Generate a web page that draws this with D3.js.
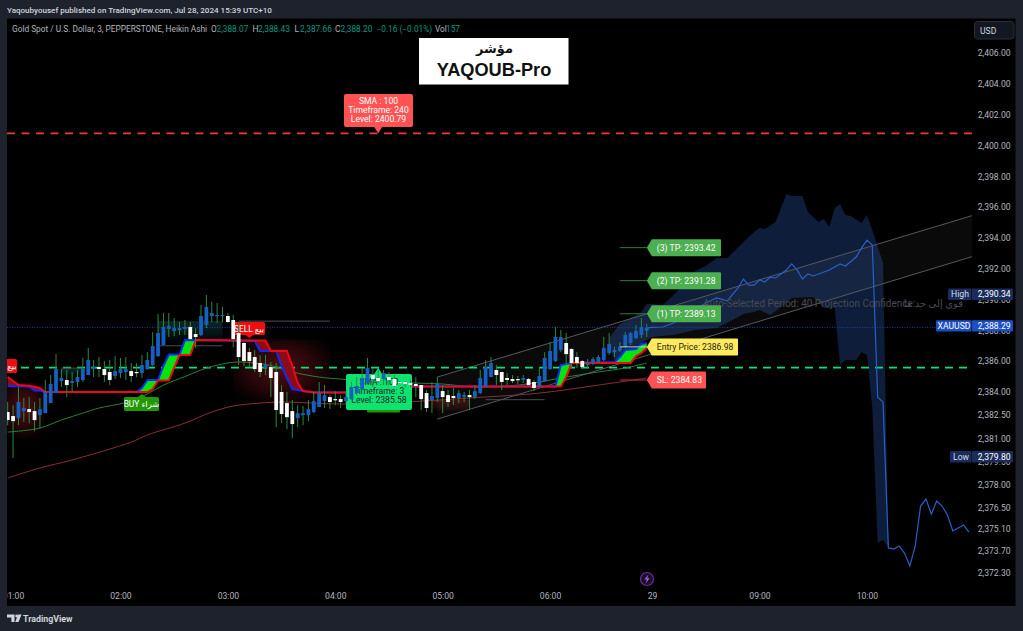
<!DOCTYPE html>
<html><head><meta charset="utf-8">
<script src="https://cdn.jsdelivr.net/npm/d3@7/dist/d3.min.js"></script>
<style>
html,body{margin:0;padding:0;background:#1e222d;overflow:hidden}
svg{display:block}
text{font-family:Roboto,"DejaVu Sans",sans-serif}
</style></head><body>
<svg id="c" width="1023" height="631"></svg>
<script>
// ---------- data ----------
const opens=[2382.70,2382.44,2382.31,2382.76,2382.89,2382.76,2382.50,2382.63,2383.28,2383.93,
2384.71,2384.78,2384.58,2384.65,2384.78,2385.10,2385.49,2385.62,2385.49,2385.30,
2385.04,2385.23,2385.30,2385.36,2385.30,2385.23,2385.49,2385.75,2386.33,2387.05,
2388.09,2387.96,2388.02,2388.09,2388.22,2387.76,2387.70,2388.35,2388.93,2388.93,
2388.93,2388.93,2388.67,2387.83,2387.18,2386.59,2386.27,2385.88,2385.56,2385.62,
2385.30,2384.00,2383.28,2382.76,2382.31,2382.50,2382.50,2382.70,2383.02,2383.41,
2383.67,2383.54,2383.54,2383.41,2383.54,2383.93,2384.19,2384.58,2385.10,2384.91,
2384.84,2384.97,2384.84,2384.65,2384.65,2384.58,2384.52,2384.45,2383.93,2383.48,
2383.61,2384.06,2383.80,2383.74,2383.61,2383.67,2383.80,2383.67,2383.93,2384.39,
2384.97,2385.43,2385.30,2384.91,2384.84,2384.84,2384.78,2384.84,2384.65,2384.39,
2384.71,2385.49,2386.01,2386.72,2387.18,2386.79,2386.27,2386.01,2385.75,2385.88,
2385.95,2386.08,2386.53,2386.59,2386.66,2386.92,2387.18,2387.50,2387.70,2387.96];
const closes=[2382.18,2382.11,2383.35,2382.96,2382.70,2382.18,2382.89,2384.00,2384.52,2385.49,
2384.91,2384.45,2384.71,2384.97,2385.49,2386.08,2385.62,2385.49,2385.10,2384.78,
2385.36,2385.49,2385.49,2385.04,2385.23,2385.75,2386.08,2386.98,2387.83,2388.22,
2388.28,2388.15,2388.15,2388.22,2387.44,2387.57,2388.93,2389.52,2389.13,2389.00,
2389.00,2388.54,2387.44,2386.27,2386.01,2386.01,2385.49,2385.30,2385.75,2384.91,
2382.83,2382.57,2382.37,2381.92,2382.63,2382.63,2382.89,2383.41,2383.93,2383.80,
2383.35,2383.48,2383.35,2383.67,2384.32,2384.39,2384.91,2385.56,2384.84,2384.71,
2385.23,2384.78,2384.39,2384.58,2384.52,2384.45,2384.39,2383.54,2382.96,2383.74,
2384.52,2383.67,2383.35,2383.61,2383.93,2383.80,2383.67,2384.06,2384.91,2385.62,
2385.88,2385.10,2384.65,2384.78,2384.71,2384.78,2384.91,2384.45,2384.26,2385.04,
2386.21,2386.66,2387.57,2387.57,2386.46,2385.88,2385.88,2385.62,2385.88,2386.14,
2386.27,2386.85,2387.11,2386.72,2386.92,2387.70,2387.83,2387.96,2388.22,2388.15];
const highs=[2383.35,2383.15,2384.32,2383.61,2383.67,2383.35,2383.61,2384.78,2385.10,2386.46,
2385.49,2385.43,2385.30,2385.43,2386.21,2386.85,2386.08,2386.27,2386.01,2386.08,
2386.33,2386.21,2386.27,2385.88,2385.88,2386.40,2386.59,2387.89,2389.06,2389.13,
2389.13,2388.80,2388.54,2388.67,2388.54,2388.15,2389.65,2390.29,2389.84,2389.78,
2389.52,2389.13,2389.00,2388.48,2387.24,2386.85,2386.72,2386.40,2386.40,2385.95,
2385.88,2384.45,2384.00,2383.48,2383.15,2383.09,2383.48,2384.00,2384.65,2384.45,
2383.80,2384.06,2383.80,2384.06,2384.65,2384.97,2385.56,2386.21,2385.56,2385.43,
2385.43,2385.30,2385.10,2384.71,2384.71,2384.78,2384.97,2384.45,2384.13,2384.65,
2384.97,2384.45,2384.13,2384.26,2384.13,2384.00,2384.13,2384.45,2385.43,2386.08,
2386.27,2385.75,2385.30,2385.23,2385.10,2385.04,2385.10,2384.91,2384.78,2385.62,
2386.59,2387.24,2388.22,2388.02,2387.83,2386.85,2386.59,2386.08,2386.14,2386.27,
2386.40,2387.57,2387.83,2386.92,2387.24,2387.89,2387.89,2388.35,2388.80,2388.41];
const lows=[2381.85,2379.72,2381.85,2382.05,2381.98,2381.46,2381.66,2382.63,2383.28,2383.93,
2384.32,2383.67,2384.00,2384.32,2384.65,2385.10,2384.97,2384.97,2384.65,2384.45,
2384.84,2384.91,2384.78,2384.65,2384.97,2384.91,2385.43,2385.69,2386.27,2387.05,
2387.57,2387.63,2387.70,2387.70,2387.37,2386.85,2387.63,2388.15,2388.54,2388.48,
2388.54,2388.48,2386.92,2385.75,2385.69,2385.62,2385.30,2384.97,2385.10,2383.67,
2381.72,2381.98,2381.59,2381.01,2381.72,2381.85,2382.11,2382.63,2383.02,2382.96,
2382.89,2383.15,2382.96,2383.28,2383.48,2383.80,2384.13,2384.58,2384.32,2384.58,
2384.45,2384.45,2384.32,2384.52,2384.32,2384.32,2383.67,2382.83,2382.70,2382.63,
2383.35,2382.63,2383.02,2383.15,2383.28,2383.35,2382.83,2383.54,2383.87,2384.32,
2384.97,2384.45,2384.13,2384.45,2384.58,2384.52,2384.58,2384.45,2384.06,2384.32,
2384.65,2385.43,2385.95,2386.59,2385.75,2385.56,2385.56,2385.56,2385.56,2385.75,
2385.88,2386.01,2386.40,2386.27,2386.59,2386.85,2387.05,2387.44,2387.50,2387.57];

const trailRedBars=[0,2,4,6,7,26,27,28,30,32,34,35,48,49,52,53,54,55,57,66,67,103,104,105,116,117,118,119];
const trailRedPrices=[2384.97,2384.45,2384.41,2384.26,2384.00,2384.00,2384.19,2384.75,2384.75,2386.40,2386.40,2387.37,2387.34,2386.66,2386.66,2385.69,2384.58,2384.06,2383.97,2383.97,2384.35,2384.35,2384.97,2385.88,2385.88,2386.33,2386.53,2386.85];
const trailBlueBars=[0,4,5,6,7,24,25,26,28,29,30,32,33,46,47,50,51,52,53,55,57,66,67,102,103,105,113,114,115,117,118,119];
const trailBluePrices=[2384.39,2384.35,2384.10,2384.10,2384.00,2384.00,2384.26,2384.78,2384.78,2385.69,2386.43,2386.43,2387.37,2387.31,2386.66,2386.66,2385.69,2384.91,2384.19,2384.06,2383.97,2383.97,2384.35,2384.35,2385.75,2385.88,2385.95,2386.27,2386.72,2386.79,2387.11,2387.18];

const maFastBars=[0,2,6,10,14,17,22,26,29,33,36,40,43,46,49,53,58,62,70,76,81,87,95,99,103,110,115,119];
const maFastPrices=[2381.40,2381.46,2381.66,2382.18,2382.63,2382.96,2383.32,2383.87,2384.45,2385.00,2385.43,2385.82,2385.95,2385.88,2385.72,2385.30,2384.97,2384.84,2384.65,2384.58,2384.52,2384.32,2384.45,2384.65,2384.91,2385.30,2385.56,2385.88];
const maSlowBars=[0,6,12,23,26,33,38,42,47,51,62,70,77,86,99,110,119];
const maSlowPrices=[2378.42,2379.07,2379.59,2380.75,2381.21,2381.98,2382.70,2383.09,2383.28,2383.35,2383.22,2383.28,2383.41,2383.61,2383.93,2384.45,2384.91];

const projectionBars=[119,120,122,124,126,128,130,132,134,136,137,138,139,140,141,142,143,144,145,146,147,148,149,150,152,153,155,156,158,159,160,161,162,163,164,165,166,167,168,169,170,171,172,173,174,175,176,177,178,179];
const projectionPrices=[2388.15,2388.19,2388.22,2388.48,2388.93,2389.32,2389.78,2390.10,2389.91,2390.75,2391.33,2390.94,2390.94,2391.27,2391.14,2391.46,2391.40,2391.66,2391.92,2392.31,2391.92,2391.33,2391.66,2391.53,2391.79,2391.92,2392.31,2392.18,2392.76,2393.34,2393.86,2393.54,2383.67,2383.35,2373.88,2373.81,2374.01,2373.55,2372.71,2374.01,2376.60,2377.05,2376.08,2376.93,2376.60,2376.02,2374.98,2375.17,2375.37,2374.91];
const bandUpperBars=[112,114,116,118,119,120,122,124,126,128,130,132,134,137,139,140,141,143,144,145,146,148,149,151,152,153,154,155,156,157,159,160,161,163,164];
const bandUpperPrices=[2387.50,2388.41,2388.80,2389.19,2389.71,2389.71,2389.65,2390.29,2391.07,2391.85,2392.18,2392.70,2392.70,2393.73,2394.38,2394.64,2394.58,2395.03,2395.94,2396.85,2396.72,2396.72,2395.68,2395.03,2395.23,2394.71,2395.94,2396.20,2395.49,2395.42,2394.97,2395.49,2394.51,2392.37,2373.94];
const bandLowerBars=[112,113,115,118,120,124,128,132,135,137,139,140,142,144,146,150,152,154,155,156,158,159,160,161,162,163,164];
const bandLowerPrices=[2387.05,2386.08,2386.21,2387.18,2387.57,2387.70,2388.02,2388.15,2388.67,2389.06,2389.19,2389.32,2389.00,2389.52,2390.10,2390.16,2389.45,2389.45,2385.75,2386.08,2386.08,2386.59,2386.40,2383.02,2374.20,2374.39,2373.94];

const channelBars=[80,180];
const channelUpper=[2384.97,2395.49];
const channelLower=[2382.24,2392.83];

const smaHigh=2400.79, smaLow=2385.58, lastPrice=2388.29, sessionHigh=2390.34, sessionLow=2379.80;
const tp3=2393.42,tp2=2391.28,tp1=2389.13,entryPrice=2386.98,stopLoss=2384.83;

const priceTicks=[2406,2404,2402,2400,2398,2396,2394,2392,2390,2388,2386,2384,2382.5,2381,2379.5,2378,2376.5,2375.1,2373.7,2372.3];
const timeTickBars=[1,21,41,61,81,101,120,140,160];
const timeTickLabels=["01:00","02:00","03:00","04:00","05:00","06:00","29","09:00","10:00"];
const legendValues=["2,388.07","2,388.43","2,387.66","2,388.20"];

// ---------- scales ----------
const svg=d3.select("#c");
const panelL=7,panelR=1015.5,panelT=18.5,panelB=606,plotR=972;
const x=d3.scaleLinear().domain([0,179]).range([7.7,7.7+179*5.37]);
const y=d3.scaleLinear().domain([2406,2372.3]).range([53,572.3]);
const fmt=d3.format(",.2f");

const defs=svg.append("defs");
defs.append("clipPath").attr("id","plot").append("rect").attr("x",panelL).attr("y",panelT).attr("width",plotR-panelL).attr("height",panelB-panelT);
function radGrad(id,stops){
  const g=defs.append("radialGradient").attr("id",id).attr("cx",.5).attr("cy",.45).attr("r",.62);
  stops.forEach(s=>g.append("stop").attr("offset",s[0]).attr("stop-color",s[1]).attr("stop-opacity",s[2]));
}
function vGrad(id,stops){
  const g=defs.append("linearGradient").attr("id",id).attr("x1",0).attr("x2",0).attr("y1",0).attr("y2",1);
  stops.forEach(s=>g.append("stop").attr("offset",s[0]).attr("stop-color",s[1]).attr("stop-opacity",s[2]));
}
radGrad("glowRed",[[0,"#c4202e",.42],[.55,"#a81a28",.24],[1,"#7a1420",.02]]);
vGrad("glowTeal",[[0,"#1f7f7f",.32],[1,"#1f7f7f",0]]);
vGrad("glowDark",[[0,"#7a1e22",.5],[1,"#7a1e22",.12]]);

svg.append("rect").attr("width",1023).attr("height",631).attr("fill","#1e222d");
svg.append("rect").attr("x",panelL).attr("y",panelT).attr("width",panelR-panelL).attr("height",panelB-panelT).attr("fill","#000");

const plot=svg.append("g").attr("clip-path","url(#plot)");
const pts=(bars,prices)=>bars.map((b,i)=>[x(b),y(prices[i])]);
const line=d3.line();
const between=(bars1,p1,bars2,p2,a,b)=>{
  const f=(bs,ps)=>pts(bs,ps).filter((_,i)=>bs[i]>=a&&bs[i]<=b);
  return "M"+f(bars1,p1).concat(f(bars2,p2).reverse()).map(d=>d.join(",")).join("L")+"Z";
};

// forecast band
plot.append("path").attr("d",between(bandUpperBars,bandUpperPrices,bandLowerBars,bandLowerPrices,0,999)).attr("fill","#0d1d3a");
// channel
plot.append("path").attr("d",between(channelBars,channelUpper,channelBars,channelLower,0,999)).attr("fill","#fff").attr("opacity",.04);
[channelUpper,channelLower].forEach(c=>plot.append("path").attr("d",line(pts(channelBars,c))).attr("fill","none").attr("stroke","#55585e").attr("stroke-width",1));

// shaded glows  [bar from, bar to, price top, price bottom, gradient]
[[-1,7,2384.6,2381.0,"glowRed"],[42,60,2387.4,2383.2,"glowRed"],[79,86,2383.5,2382.8,"glowDark"],
 [28,40,2388.6,2387.1,"glowTeal"],[10,14,2385.5,2384.9,"glowTeal"]].forEach(s=>
  plot.append("rect").attr("x",x(s[0])).attr("width",x(s[1])-x(s[0])).attr("y",y(s[2])).attr("height",y(s[3])-y(s[2])).attr("fill",`url(#${s[4]})`));

// level lines
plot.append("line").attr("x1",panelL).attr("x2",plotR).attr("y1",y(lastPrice)+1.5).attr("y2",y(lastPrice)+1.5).attr("stroke","#1e3fa8").attr("stroke-dasharray","1 1.5").attr("stroke-width",1);
plot.append("line").attr("x1",panelL).attr("x2",plotR).attr("y1",y(smaHigh)).attr("y2",y(smaHigh)).attr("stroke","#f23645").attr("stroke-dasharray","8 6.5").attr("stroke-width",1.8);
plot.append("line").attr("x1",panelL).attr("x2",plotR).attr("y1",y(smaLow)).attr("y2",y(smaLow)).attr("stroke","#00e676").attr("stroke-dasharray","8 6").attr("stroke-width",1.8);

// short grey levels [bar from, bar to, price]
[[10,14,2385.55],[28,40,2387.0],[43,60,2388.6],[89,100,2383.5]].forEach(s=>
  plot.append("line").attr("x1",x(s[0])).attr("x2",x(s[1])).attr("y1",y(s[2])).attr("y2",y(s[2])).attr("stroke","#4a4d52").attr("stroke-width",1));

// moving averages
plot.append("path").attr("d",line.curve(d3.curveCatmullRom)(pts(maSlowBars,maSlowPrices))).attr("fill","none").attr("stroke","#8c2f2f").attr("stroke-width",1);
plot.append("path").attr("d",line(pts(maFastBars,maFastPrices))).attr("fill","none").attr("stroke","#2f7d3a").attr("stroke-width",1);
line.curve(d3.curveLinear);

// trailing ribbon
[[24,35,"#00e60a"],[102,119,"#00e60a"],[46,57,"#8a0b1a"],[0,7,"#8a0b1a"]].forEach(s=>
  plot.append("path").attr("d",between(trailBlueBars,trailBluePrices,trailRedBars,trailRedPrices,s[0],s[1])).attr("fill",s[2]));
plot.append("path").attr("d",line(pts(trailBlueBars,trailBluePrices))).attr("fill","none").attr("stroke","#0a2cff").attr("stroke-width",2).attr("stroke-linejoin","round");
plot.append("path").attr("d",line(pts(trailRedBars,trailRedPrices))).attr("fill","none").attr("stroke","#f5060f").attr("stroke-width",2).attr("stroke-linejoin","round");

// callouts behind the candles
function tipBox(g,x0,x1,y0,y1,tx,ty,fill,r=1.5){
  const up=ty<y0;
  const d=up?`M${x0+r},${y0}L${tx-4},${y0}L${tx},${ty}L${tx+4},${y0}L${x1-r},${y0}Q${x1},${y0} ${x1},${y0+r}L${x1},${y1-r}Q${x1},${y1} ${x1-r},${y1}L${x0+r},${y1}Q${x0},${y1} ${x0},${y1-r}L${x0},${y0+r}Q${x0},${y0} ${x0+r},${y0}Z`
            :`M${x0+r},${y0}L${x1-r},${y0}Q${x1},${y0} ${x1},${y0+r}L${x1},${y1-r}Q${x1},${y1} ${x1-r},${y1}L${tx+4},${y1}L${tx},${ty}L${tx-4},${y1}L${x0+r},${y1}Q${x0},${y1} ${x0},${y1-r}L${x0},${y0+r}Q${x0},${y0} ${x0+r},${y0}Z`;
  g.append("path").attr("d",d).attr("fill",fill);
}
function boxText(g,tx,ty,str,fill,size=8.4,anchor="middle",weight=400){
  return g.append("text").attr("x",tx).attr("y",ty).attr("text-anchor",anchor).attr("fill",fill).attr("font-size",size).attr("font-weight",weight).text(str);
}
const sellLabel="SELL بيع", buyLabel="BUY شراء";
const labs=plot.append("g");
// clipped sell at the left edge
tipBox(labs,-18,17,359,373,-1,375,"#f00d0d"); boxText(labs,12,369,"بيع","#fff",8.4);
// sell
tipBox(labs,233,265,322,335,x(45),338,"#f00d0d"); boxText(labs,249,331.5,sellLabel,"#fff",8.4);
// buy
tipBox(labs,124,159,397,411,x(25),394,"#1f9a06"); boxText(labs,141.5,407,buyLabel,"#fff",8.4);
// hidden buy underneath the SMA callout
labs.append("rect").attr("x",367).attr("y",400).attr("width",33).attr("height",12.5).attr("rx",1).attr("fill","#1f9a06");
// SMA low callout
tipBox(labs,346,412,374,410,x(69),y(smaLow),"#0fe36f",2);
["SMA : 100","Timeframe: 3","Level: "+smaLow.toFixed(2)].forEach((t,i)=>boxText(labs,379,384.5+i*9.2,t,"#123",8.6));
// SMA high callout
tipBox(labs,344,413,94,127,x(69),y(smaHigh),"#ff5252",2);
["SMA : 100","Timeframe: 240","Level: "+smaHigh.toFixed(2)].forEach((t,i)=>boxText(labs,378.5,103.5+i*9.4,t,"#fff",8.6));

// candles
const candleG=plot.append("g");
const cd=opens.map((o,i)=>({i,o,c:closes[i],h:highs[i],l:lows[i]}));
candleG.selectAll("line").data(cd).join("line")
 .attr("x1",d=>x(d.i)).attr("x2",d=>x(d.i)).attr("y1",d=>y(d.h)).attr("y2",d=>y(d.l))
 .attr("stroke","#2c8a3c").attr("stroke-width",1);
candleG.selectAll("rect").data(cd).join("rect")
 .attr("x",d=>x(d.i)-1.9).attr("width",3.8)
 .attr("y",d=>y(Math.max(d.o,d.c))).attr("height",d=>Math.max(1.2,y(Math.min(d.o,d.c))-y(Math.max(d.o,d.c))))
 .attr("fill",d=>d.c>=d.o?"#1660bf":"#fff");

// projection
plot.append("path").attr("d",line(pts(projectionBars,projectionPrices))).attr("fill","none").attr("stroke","#2a5fc9").attr("stroke-width",1.2);

// status text (under the trade labels)
boxText(plot,703,306.5,"Auto-Selected Period: 40   Projection Confidence:","#474a52",10,"start");
boxText(plot,963,306.5,"قوي إلى حد ما","#474a52",10,"end");

// trade labels
const labelBar=119.2;
[[tp3,"(3) TP: "+tp3,"#4caf50","#fff",721,"#2b7f31"],
 [tp2,"(2) TP: "+tp2,"#4caf50","#fff",721,"#2b7f31"],
 [tp1,"(1) TP: "+tp1,"#4caf50","#fff",721,"#2b7f31"],
 [entryPrice,"Entry Price: "+entryPrice,"#ffeb5b","#1d1d1d",738,"#c8c8b0"],
 [stopLoss,"SL: "+stopLoss,"#ff5252","#fff",706,"#d02a35"]].forEach(t=>{
  const ly=y(t[0])+.8, lx=x(labelBar)-1;
  plot.append("line").attr("x1",x(114)).attr("x2",lx).attr("y1",ly).attr("y2",ly).attr("stroke",t[5]).attr("stroke-width",1);
  const d=`M${lx},${ly}L${lx+5},${ly-8.5}L${t[4]-1},${ly-8.5}Q${t[4]},${ly-8.5} ${t[4]},${ly-7.5}L${t[4]},${ly+7.5}Q${t[4]},${ly+8.5} ${t[4]-1},${ly+8.5}L${lx+5},${ly+8.5}Z`;
  plot.append("path").attr("d",d).attr("fill",t[2]);
  boxText(plot,lx+10,ly+3,t[1],t[3],8.6,"start");
});

// axes
const yAxis=d3.axisRight(y).tickValues(priceTicks).tickSize(0).tickPadding(5.7).tickFormat(fmt);
const yg=svg.append("g").attr("transform",`translate(${plotR},0)`).call(yAxis);
yg.select(".domain").remove();
yg.selectAll("text").attr("fill","#b2b5be").attr("font-size",8.6).style("font-family","Roboto,sans-serif");
const xAxis=d3.axisBottom(x).tickValues(timeTickBars).tickSize(0).tickPadding(0).tickFormat((d,i)=>timeTickLabels[i]);
const xg=plot.append("g").attr("transform","translate(0,593)").call(xAxis);
xg.select(".domain").remove();
xg.selectAll("text").attr("fill","#b2b5be").attr("font-size",8.6).style("font-family","Roboto,sans-serif");

// price badges
[[sessionHigh,"High","#1b2b5a",948,"#d6dcf0"],[lastPrice,"XAUUSD","#1c4fc4",936,"#fff"],[sessionLow,"Low","#1b2b5a",950,"#d6dcf0"]].forEach(b=>{
  const c=y(b[0]);
  svg.append("rect").attr("x",b[3]).attr("y",c-5.7).attr("width",plotR-b[3]-.5).attr("height",11.4).attr("rx",1).attr("fill",b[2]);
  svg.append("rect").attr("x",plotR).attr("y",c-5.7).attr("width",41).attr("height",11.4).attr("rx",1).attr("fill",b[2]);
  boxText(svg,(b[3]+plotR)/2,c+3,b[1],b[4],8.6);
  boxText(svg,plotR+5.7,c+3,fmt(b[0]),"#fff",8.6,"start");
});

// USD button
svg.append("rect").attr("x",974.5).attr("y",21.5).attr("width",39.5).attr("height",17.5).attr("rx",3).attr("fill","#131722").attr("stroke","#2a2e39");
boxText(svg,980,33.5,"USD","#d1d4dc",8.6,"start");

// title & legend
boxText(svg,7,13,"Yaqoubyousef published on TradingView.com, Jul 28, 2024 15:39 UTC+10","#d1d4dc",8.05,"start",500);
boxText(svg,12,31.5,"Gold Spot / U.S. Dollar, 3, PEPPERSTONE, Heikin Ashi","#b2b5be",8.3,"start");
const teal="#089981";
[["O",211],["H",252.5],["L",294.5],["C",335]].forEach((s,i)=>{
  boxText(svg,s[1],31.5,s[0],"#b2b5be",8.3,"start");
  boxText(svg,s[1]+5.5,31.5,legendValues[i],teal,8.3,"start");
});
boxText(svg,376.5,31.5,"−0.16 (−0.01%)",teal,8.3,"start");
boxText(svg,435,31.5,"Vol","#b2b5be",8.3,"start");
boxText(svg,446,31.5,"157",teal,8.3,"start");

// indicator banner
svg.append("rect").attr("x",419).attr("y",38).attr("width",149.5).attr("height",46.5).attr("fill","#fff");
svg.append("text").attr("x",494.5).attr("y",53).attr("text-anchor","middle").attr("font-size",13).attr("font-weight",700).attr("fill","#111").style("font-family","'DejaVu Sans',sans-serif").text("مؤشر");
svg.append("text").attr("x",494).attr("y",76).attr("text-anchor","middle").attr("font-size",18.2).attr("font-weight",700).attr("fill","#111").style("font-family","'Liberation Sans',sans-serif").text("YAQOUB-Pro");

// session break icon
svg.append("circle").attr("cx",647).attr("cy",579).attr("r",6.5).attr("fill","#1b1028").attr("stroke","#6a2ca0").attr("stroke-width",1.2);
svg.append("path").attr("d","M648.5,574.5L644.5,579.6L647,579.6L645.6,583.5L649.6,578.2L647.2,578.2Z").attr("fill","#a56ae6");

// footer logo
svg.append("path").attr("d","M7,614.5H14.5V622H11.4V617.4H7Z").attr("fill","#d1d4dc");
svg.append("circle").attr("cx",16.6).attr("cy",616).attr("r",1.4).attr("fill","#d1d4dc");
svg.append("path").attr("d","M15.2,622L18.2,614.5H21.6L18.5,622Z").attr("fill","#d1d4dc");
boxText(svg,23,622,"TradingView","#d1d4dc",8.8,"start",700);
</script></body></html>
